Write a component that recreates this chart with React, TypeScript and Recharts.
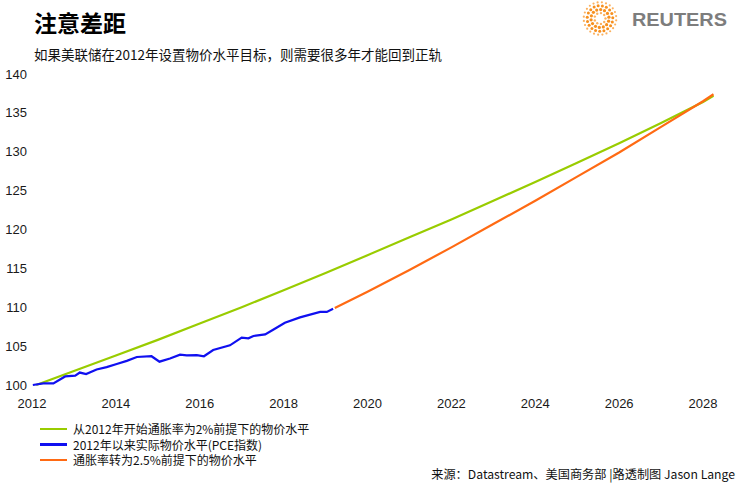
import { Line, LineChart, XAxis, YAxis } from 'recharts';

// 2% path from 2012
const targetYears = [2012.1, 2013, 2014, 2015, 2016, 2017, 2018, 2019, 2020, 2021, 2022, 2023, 2024, 2025, 2026, 2027, 2028, 2028.25];
const targetValues = [100.0, 101.8, 103.8, 105.8, 107.9, 110.0, 112.2, 114.4, 116.7, 119.0, 121.3, 123.7, 126.1, 128.6, 131.1, 133.7, 136.4, 137.2];

// actual PCE price level, 2012 = 100
const pceYears = [
  2012.02, 2012.27, 2012.51, 2012.79, 2013.03, 2013.14, 2013.29, 2013.54, 2013.78, 2014.02,
  2014.26, 2014.5, 2014.85, 2015.04, 2015.29, 2015.53, 2015.69, 2015.93, 2016.1, 2016.32,
  2016.72, 2017.0, 2017.16, 2017.28, 2017.56, 2017.75, 2018.03, 2018.39, 2018.87, 2019.03, 2019.18,
];
const pceValues = [
  100.0, 100.2, 100.2, 101.1, 101.2, 101.6, 101.4, 102.0, 102.3, 102.7,
  103.1, 103.6, 103.7, 103.0, 103.4, 103.9, 103.8, 103.85, 103.7, 104.5,
  105.1, 106.1, 106.0, 106.3, 106.5, 107.1, 108.0, 108.7, 109.4, 109.4, 109.8,
];

// catch-up path at 2.5%
const catchUpYears = [2019.22, 2020, 2021, 2022, 2023, 2024, 2025, 2026, 2027, 2028, 2028.25];
const catchUpValues = [109.9, 112.0, 114.8, 117.7, 120.7, 123.7, 126.8, 129.9, 133.2, 136.5, 137.4];

const xTicks = [2012, 2014, 2016, 2018, 2020, 2022, 2024, 2026, 2028];
const yTicks = [100, 105, 110, 115, 120, 125, 130, 135, 140];

const GREEN = '#99cc00';
const BLUE = '#1010f0';
const ORANGE = '#ff6a13';

const legendItems = [
  { label: '从2012年开始通胀率为2%前提下的物价水平', color: GREEN },
  { label: '2012年以来实际物价水平(PCE指数)', color: BLUE },
  { label: '通胀率转为2.5%前提下的物价水平', color: ORANGE },
];

const toRows = (xs: number[], ys: number[]) => xs.map((x, i) => ({ year: x, value: ys[i] }));

const TICK_FONT = '"Liberation Sans", Arial, sans-serif';
const CJK_FONT = '"Noto Sans CJK SC", "Noto Sans", sans-serif';

function LeftTick({ y, payload }: any) {
  return (
    <text x={27} y={y + 4.5} textAnchor="end" fontSize={13} fill="#1a1a1a" fontFamily={TICK_FONT}>
      {payload.value}
    </text>
  );
}

function RightTick({ y, payload }: any) {
  return (
    <text x={718} y={y + 4.5} textAnchor="start" fontSize={13} fill="#1a1a1a" fontFamily={TICK_FONT}>
      {payload.value}
    </text>
  );
}

function BottomTick({ x, payload }: any) {
  return (
    <text x={x} y={407.5} textAnchor="middle" fontSize={13} fill="#1a1a1a" fontFamily={TICK_FONT}>
      {payload.value}
    </text>
  );
}

function ReutersLogo() {
  const rings = [
    { r: 5.5, n: 9, d: 1.2 },
    { r: 9, n: 14, d: 1.6 },
    { r: 12.8, n: 19, d: 1.5 },
    { r: 16.3, n: 24, d: 1.1 },
  ];
  return (
    <svg width={160} height={40} style={{ position: 'absolute', left: 580, top: 0 }}>
      {rings.map((ring, k) =>
        Array.from({ length: ring.n }).map((_, i) => {
          const a = (i / ring.n) * Math.PI * 2 + k * 0.3;
          return (
            <circle
              key={`${k}-${i}`}
              cx={20 + ring.r * Math.cos(a)}
              cy={18.5 + ring.r * Math.sin(a)}
              r={ring.d}
              fill={k === 1 || k === 2 ? '#f7901e' : '#fbb15f'}
            />
          );
        }),
      )}
      <text
        x={52}
        y={25.5}
        fontSize={19}
        fontWeight={700}
        fill="#7d7d7d"
        fontFamily={TICK_FONT}
        textLength={95}
        lengthAdjust="spacingAndGlyphs"
      >
        REUTERS
      </text>
    </svg>
  );
}

export default function App() {
  return (
    <div
      style={{
        position: 'absolute',
        left: 0,
        top: 0,
        width: 745,
        height: 486,
        background: '#fff',
        overflow: 'hidden',
      }}
    >
      <div
        style={{
          position: 'absolute',
          left: 34,
          top: 6,
          fontFamily: CJK_FONT,
          fontSize: 23,
          fontWeight: 700,
          lineHeight: '32px',
          color: '#000',
        }}
      >
        注意差距
      </div>
      <div
        style={{
          position: 'absolute',
          left: 34,
          top: 44,
          fontFamily: CJK_FONT,
          fontSize: 13.5,
          lineHeight: '20px',
          color: '#111',
          whiteSpace: 'nowrap',
        }}
      >
        如果美联储在2012年设置物价水平目标，则需要很多年才能回到正轨
      </div>
      <ReutersLogo />

      <div style={{ position: 'absolute', left: 0, top: 0 }}>
        <LineChart width={745} height={420} margin={{ top: 74, right: 0, bottom: 0, left: 0 }}>
          <XAxis
            dataKey="year"
            type="number"
            domain={[2012, 2028.25]}
            ticks={xTicks}
            allowDuplicatedCategory={false}
            axisLine={false}
            tickLine={false}
            height={35}
            tick={<BottomTick />}
            interval={0}
          />
          <YAxis
            yAxisId="left"
            domain={[100, 140]}
            ticks={yTicks}
            axisLine={false}
            tickLine={false}
            width={32}
            tick={<LeftTick />}
            interval={0}
          />
          <YAxis
            yAxisId="right"
            orientation="right"
            domain={[100, 140]}
            ticks={yTicks}
            axisLine={false}
            tickLine={false}
            width={31.5}
            tick={<RightTick />}
            interval={0}
          />
          <Line
            yAxisId="left"
            data={toRows(targetYears, targetValues)}
            dataKey="value"
            stroke={GREEN}
            strokeWidth={2.2}
            dot={false}
            isAnimationActive={false}
          />
          <Line
            yAxisId="left"
            data={toRows(pceYears, pceValues)}
            dataKey="value"
            stroke={BLUE}
            strokeWidth={2.2}
            dot={false}
            isAnimationActive={false}
          />
          <Line
            yAxisId="left"
            data={toRows(catchUpYears, catchUpValues)}
            dataKey="value"
            stroke={ORANGE}
            strokeWidth={2.2}
            dot={false}
            isAnimationActive={false}
          />
        </LineChart>
      </div>

      <div style={{ position: 'absolute', left: 40, top: 421 }}>
        {legendItems.map((item) => (
          <div
            key={item.label}
            style={{ display: 'flex', alignItems: 'center', height: 15.5, whiteSpace: 'nowrap' }}
          >
            <span style={{ display: 'block', width: 27, height: 2.5, background: item.color }} />
            <span
              style={{
                display: 'block',
                height: 15,
                marginLeft: 6,
                fontFamily: CJK_FONT,
                fontSize: 12,
                lineHeight: '15px',
                color: '#111',
              }}
            >
              {item.label}
            </span>
          </div>
        ))}
      </div>

      <div
        style={{
          position: 'absolute',
          right: 10,
          top: 465,
          fontFamily: CJK_FONT,
          fontSize: 12.2,
          lineHeight: '18px',
          color: '#111',
          whiteSpace: 'nowrap',
        }}
      >
        来源：Datastream、美国商务部 |路透制图 Jason Lange
      </div>
    </div>
  );
}
